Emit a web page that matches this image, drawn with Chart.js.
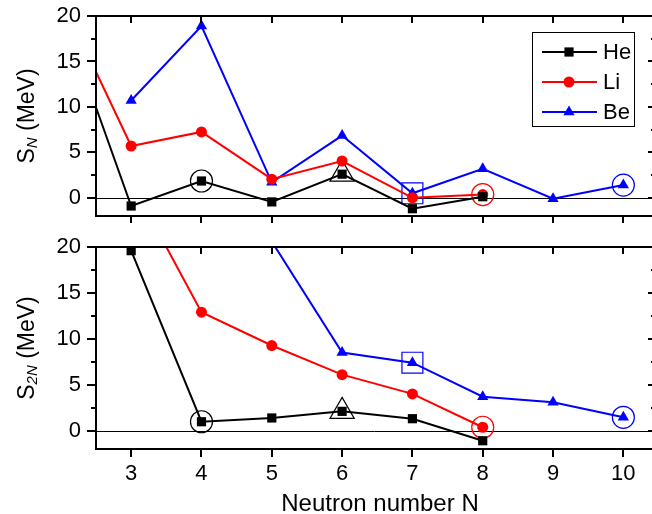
<!DOCTYPE html>
<html>
<head>
<meta charset="utf-8">
<script src="https://cdn.jsdelivr.net/npm/chart.js@4.4.1/dist/chart.umd.min.js"></script>
<style>
  html, body { margin:0; padding:0; background:#fff; overflow:hidden; width:652px; height:514px; }
  #wrap { position:relative; width:652px; height:514px; overflow:hidden; }
  .box { position:absolute; left:0; width:652px; }
  #bTop { top:0; height:232px; }
  #bBot { top:230px; height:284px; }
  canvas { display:block; }
</style>
</head>
<body>
<div id="wrap">
  <div class="box" id="bTop"><canvas id="cTop" width="652" height="232" style="width:652px;height:232px"></canvas></div>
  <div class="box" id="bBot"><canvas id="cBot" width="652" height="284" style="width:652px;height:284px"></canvas></div>
</div>
<script>
// ---- data ----
const neutronN   = [2, 3, 4, 5, 6, 7, 8, 9, 10];
const xTicks     = [3, 4, 5, 6, 7, 8, 9, 10];
const yTicks     = [0, 5, 10, 15, 20];
const yMinor     = [2.5, 7.5, 12.5, 17.5];
const elements   = ['He', 'Li', 'Be'];
const colors     = ['#000000', '#ff0000', '#0000ff'];
const styles     = ['rect', 'circle', 'triangle'];
// one-neutron separation energies S_N (MeV)
const snHe  = [20.8, -0.9, 1.85, -0.45, 2.6, -1.2, 0.12, null, null];
const snLi  = [22.0, 5.7, 7.25, 2.05, 4.05, 0.0, 0.36, null, null];
const snBe  = [null, 10.7, 18.9, 1.7, 6.85, 0.5, 3.2, -0.1, 1.4];
// two-neutron separation energies S_2N (MeV)
const s2nHe = [null, 19.6, 0.97, 1.38, 2.1, 1.3, -1.1, null, null];
const s2nLi = [null, 27.1, 12.9, 9.27, 6.1, 4.0, 0.37, null, null];
const s2nBe = [null, null, null, 20.6, 8.5, 7.4, 3.7, 3.1, 1.45];
// highlighted nuclei (open markers)
const hlElement = ['He', 'He', 'Be', 'Li', 'Be'];
const hlN       = [4, 6, 7, 8, 10];
const hlShape   = ['circle', 'triangle', 'rect', 'circle', 'circle'];

const FONT = '"Liberation Sans", Arial, Helvetica, sans-serif';
const sizes = { rect: 6.5, circle: 5.5, triangle: 6.5 };
const hlSizes = { rect: 14.8, circle: 11, triangle: 14 };
const AREA_RIGHT = 655;

function buildDatasets(seriesList) {
  const ds = seriesList.map((vals, i) => ({
    label: elements[i],
    data: neutronN.map((n, k) => ({ x: n, y: vals[k] })),
    borderColor: colors[i],
    backgroundColor: colors[i],
    pointBackgroundColor: colors[i],
    pointBorderColor: colors[i],
    pointStyle: styles[i],
    pointRadius: sizes[styles[i]],
    pointBorderWidth: 0,
    borderWidth: 2,
    tension: 0,
    clip: 0,
    spanGaps: false
  }));
  hlElement.forEach((el, j) => {
    const i = elements.indexOf(el);
    const k = neutronN.indexOf(hlN[j]);
    ds.push({
      label: 'hl',
      data: [{ x: hlN[j], y: seriesList[i][k] }],
      showLine: false,
      pointStyle: hlShape[j],
      pointRadius: hlSizes[hlShape[j]],
      pointBackgroundColor: 'rgba(0,0,0,0)',
      pointBorderColor: colors[i],
      pointBorderWidth: 1.2,
      clip: 0
    });
  });
  return ds;
}

const decoPlugin = {
  id: 'deco',
  afterLayout(chart) {
    // stretch the plot area so its right frame sits where the reference has it
    const a = chart.chartArea;
    a.right = AREA_RIGHT;
    a.width = a.right - a.left;
    const xs = chart.scales.x;
    xs.left = a.left;
    xs.right = AREA_RIGHT;
    xs.width = xs.right - xs.left;
    xs.configure();
    const ys = chart.scales.y;
    if (ys) { ys.configure(); }
  },
  beforeDatasetsDraw(chart) {
    const { ctx, chartArea: a, scales: { y } } = chart;
    ctx.save();
    ctx.strokeStyle = '#000';
    ctx.lineWidth = 1;
    const y0 = Math.round(y.getPixelForValue(0)) + 0.5;
    ctx.beginPath(); ctx.moveTo(a.left, y0); ctx.lineTo(a.right, y0); ctx.stroke();
    ctx.restore();
  },
  afterDatasetsDraw(chart, args, opts) {
    const { ctx, chartArea: a, scales: { x, y } } = chart;
    ctx.save();
    ctx.strokeStyle = '#000';
    ctx.lineWidth = 2;
    ctx.strokeRect(a.left, a.top, a.right - a.left, a.bottom - a.top);
    ctx.beginPath();
    xTicks.forEach(v => {
      const px = Math.round(x.getPixelForValue(v));
      ctx.moveTo(px, a.bottom); ctx.lineTo(px, a.bottom + opts.bottomTick);
      ctx.moveTo(px, a.top); ctx.lineTo(px, a.top + 7);
    });
    yTicks.forEach(v => {
      const py = Math.round(y.getPixelForValue(v));
      ctx.moveTo(a.left, py); ctx.lineTo(a.left - 9, py);
      ctx.moveTo(a.right, py); ctx.lineTo(a.right - 7, py);
    });
    yMinor.forEach(v => {
      const py = Math.round(y.getPixelForValue(v));
      ctx.moveTo(a.left, py); ctx.lineTo(a.left - 5, py);
      ctx.moveTo(a.right, py); ctx.lineTo(a.right - 4, py);
    });
    ctx.stroke();

    // y-axis title with subscript
    const cy = (a.top + a.bottom) / 2;
    ctx.translate(26, cy);
    ctx.rotate(-Math.PI / 2);
    const big = '23px ' + FONT, small = 'italic 15px ' + FONT;
    ctx.font = big;
    const wS = ctx.measureText('S').width;
    const rest = ' (MeV)';
    const wR = ctx.measureText(rest).width;
    ctx.font = small;
    const wSub = ctx.measureText(opts.sub).width;
    let tx = -(wS + wSub + wR) / 2;
    const base = 7.5;
    ctx.fillStyle = '#000';
    ctx.textBaseline = 'alphabetic';
    ctx.font = big; ctx.fillText('S', tx, base); tx += wS;
    ctx.font = small; ctx.fillText(opts.sub, tx, base + 3); tx += wSub;
    ctx.font = big; ctx.fillText(rest, tx, base);
    ctx.restore();
  },
  afterDraw(chart, args, opts) {
    const { ctx } = chart;
    if (opts.legend) {
      ctx.save();
      ctx.fillStyle = '#fff';
      ctx.fillRect(532.5, 32.5, 102, 94);
      ctx.strokeStyle = '#000';
      ctx.lineWidth = 1;
      ctx.strokeRect(532.5, 32.5, 102, 94);
      const rowsY = [52, 82, 112];
      elements.forEach((el, i) => {
        const ry = rowsY[i];
        ctx.strokeStyle = colors[i];
        ctx.lineWidth = 2;
        ctx.beginPath(); ctx.moveTo(542, ry); ctx.lineTo(597, ry); ctx.stroke();
        ctx.fillStyle = colors[i];
        Chart.helpers.drawPoint(ctx, { pointStyle: styles[i], radius: sizes[styles[i]], rotation: 0, borderWidth: 0 }, 569, ry);
        ctx.fillStyle = '#000';
        ctx.font = '22px ' + FONT;
        ctx.textBaseline = 'middle';
        ctx.textAlign = 'left';
        ctx.fillText(el, 603, ry + 1);
      });
      ctx.restore();
    }
    if (opts.xTitle) {
      ctx.save();
      ctx.fillStyle = '#000';
      ctx.font = '24px ' + FONT;
      ctx.textAlign = 'center';
      ctx.textBaseline = 'alphabetic';
      ctx.fillText(opts.xTitle, 380, 281);
      ctx.restore();
    }
  }
};

function noPad(s) {
  s.paddingTop = 0; s.paddingBottom = 0; s.paddingLeft = 0; s.paddingRight = 0;
}

function makeOptions(isBottom, sub) {
  return {
    responsive: false,
    maintainAspectRatio: false,
    animation: false,
    devicePixelRatio: 1,
    layout: { padding: { top: isBottom ? 17 : 16, right: 0, bottom: isBottom ? 0 : 13, left: 0 } },
    plugins: {
      legend: { display: false },
      tooltip: { enabled: false },
      deco: { sub: sub, legend: !isBottom, xTitle: isBottom ? 'Neutron number N' : null, bottomTick: isBottom ? 8 : 7 }
    },
    scales: {
      x: {
        type: 'linear', min: 2.5, max: 10.45,
        display: isBottom,
        afterBuildTicks: s => { s.ticks = xTicks.map(v => ({ value: v })); },
        grid: { display: false, drawTicks: false },
        border: { display: false },
        ticks: { font: { family: FONT, size: 22 }, color: '#000', padding: 12, maxRotation: 0, autoSkip: false },
        afterFit: s => { s.height = isBottom ? 65 : 0; noPad(s); }
      },
      y: {
        type: 'linear', min: -2, max: 20,
        afterBuildTicks: s => { s.ticks = yTicks.map(v => ({ value: v })); },
        grid: { display: false, drawTicks: false },
        border: { display: false },
        ticks: { font: { family: FONT, size: 22 }, color: '#000', padding: 15 },
        afterFit: s => { s.width = 96; noPad(s); }
      }
    }
  };
}

new Chart(document.getElementById('cTop'), {
  type: 'line',
  data: { datasets: buildDatasets([snHe, snLi, snBe]) },
  options: makeOptions(false, 'N'),
  plugins: [decoPlugin]
});
new Chart(document.getElementById('cBot'), {
  type: 'line',
  data: { datasets: buildDatasets([s2nHe, s2nLi, s2nBe]) },
  options: makeOptions(true, '2N'),
  plugins: [decoPlugin]
});
</script>
</body>
</html>
